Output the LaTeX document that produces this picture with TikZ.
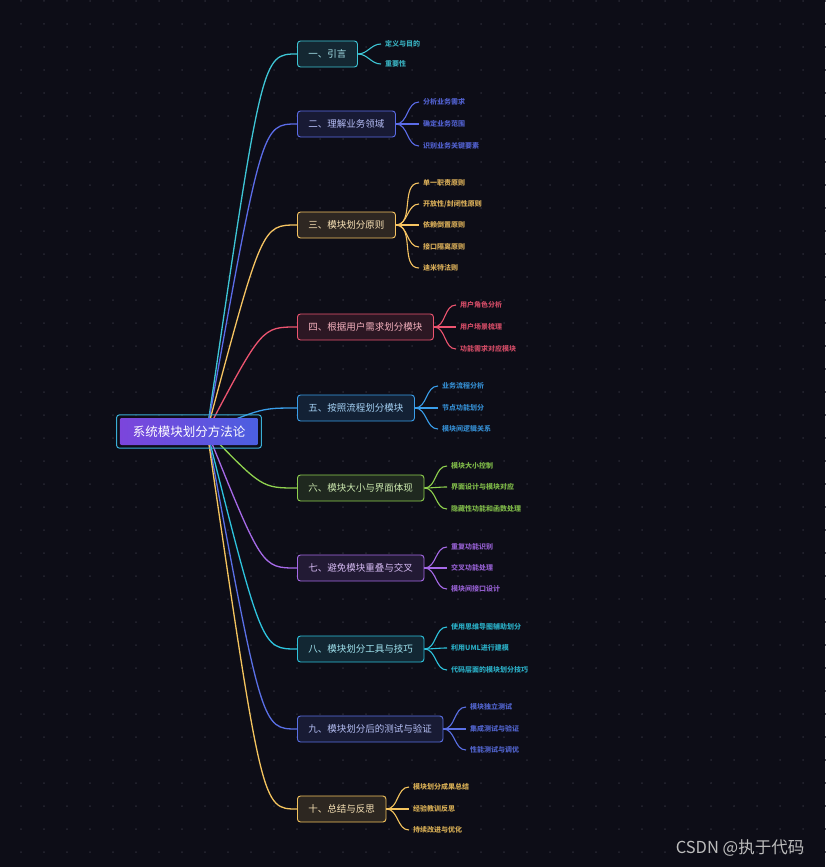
\documentclass[tikz,border=0pt]{standalone}
\usepackage{fontspec}
\setmainfont{Noto Sans CJK SC}
\usetikzlibrary{backgrounds}

\definecolor{bgc}{HTML}{0D0D17}
\definecolor{dotc}{HTML}{272733}
\definecolor{rootl}{HTML}{7C45DC}
\definecolor{rootr}{HTML}{4B5FE0}
\definecolor{rootf}{HTML}{3AAED6}
\definecolor{c1}{HTML}{3EC6D6}
\definecolor{c2}{HTML}{5B6CE8}
\definecolor{c3}{HTML}{F6C462}
\definecolor{c4}{HTML}{EC5470}
\definecolor{c5}{HTML}{3A9EEA}
\definecolor{c6}{HTML}{8FD14F}
\definecolor{c7}{HTML}{A66AE8}
\definecolor{c8}{HTML}{2EC4DE}
\definecolor{c9}{HTML}{5A70E6}
\definecolor{c10}{HTML}{F4C45E}
\definecolor{wmarkc}{HTML}{BDBDBD}

\tikzset{
  root/.style={left color=rootl, right color=rootr, text=white, rounded corners=2pt,
    minimum height=27pt, inner xsep=13pt, font=\fontsize{12.5pt}{14pt}\selectfont},
  rootframe/.style={draw=rootf, line width=1pt, rounded corners=3pt},
  branch/.style={draw=#1, fill=#1!14!bgc, text=#1!45!white, rounded corners=3pt,
    line width=0.9pt, minimum height=26pt, inner xsep=11pt, anchor=west,
    font=\fontsize{9.5pt}{11pt}\selectfont},
  leaf/.style={text=#1!85!bgc, inner xsep=4pt, inner ysep=1pt, anchor=west,
    font=\fontsize{7pt}{8pt}\selectfont\bfseries},
  link/.style={draw=#1, line width=1.3pt},
  twig/.style={draw=#1, line width=1.1pt},
  wmark/.style={text=wmarkc, font=\fontsize{16.5pt}{18pt}\selectfont}
}

\begin{document}
\begin{tikzpicture}[x=1pt, y=-1pt]
\useasboundingbox (0,0) rectangle (825,867);

% centre
\node[root] (root) at (189,431.5) {系统模块划分方法论};
\draw[rootframe] ([shift={(-3pt,3pt)}]root.north west) rectangle ([shift={(3pt,-3pt)}]root.south east);
\coordinate (hub) at (207,431);

% branches
\node[branch=c1] (b1) at (297,54) {一、引言};
\node[branch=c2] (b2) at (297,124) {二、理解业务领域};
\node[branch=c3] (b3) at (297,225) {三、模块划分原则};
\node[branch=c4] (b4) at (297,327) {四、根据用户需求划分模块};
\node[branch=c5] (b5) at (297,408) {五、按照流程划分模块};
\node[branch=c6] (b6) at (297,488) {六、模块大小与界面体现};
\node[branch=c7] (b7) at (297,568) {七、避免模块重叠与交叉};
\node[branch=c8] (b8) at (297,649) {八、模块划分工具与技巧};
\node[branch=c9] (b9) at (297,729) {九、模块划分后的测试与验证};
\node[branch=c10] (b10) at (297,809) {十、总结与反思};

% leaves
\node[leaf=c1] (l1a) at (381,44) {定义与目的};
\node[leaf=c1] (l1b) at (381,64) {重要性};

\node[leaf=c2] (l2a) at (419,102) {分析业务需求};
\node[leaf=c2] (l2b) at (419,124) {确定业务范围};
\node[leaf=c2] (l2c) at (419,146) {识别业务关键要素};

\node[leaf=c3] (l3a) at (419,183) {单一职责原则};
\node[leaf=c3] (l3b) at (419,204) {开放性/封闭性原则};
\node[leaf=c3] (l3c) at (419,225) {依赖倒置原则};
\node[leaf=c3] (l3d) at (419,247) {接口隔离原则};
\node[leaf=c3] (l3e) at (419,268) {迪米特法则};

\node[leaf=c4] (l4a) at (456,305) {用户角色分析};
\node[leaf=c4] (l4b) at (456,327) {用户场景梳理};
\node[leaf=c4] (l4c) at (456,349) {功能需求对应模块};

\node[leaf=c5] (l5a) at (438,386) {业务流程分析};
\node[leaf=c5] (l5b) at (438,408) {节点功能划分};
\node[leaf=c5] (l5c) at (438,429) {模块间逻辑关系};

\node[leaf=c6] (l6a) at (447,466) {模块大小控制};
\node[leaf=c6] (l6b) at (447,487) {界面设计与模块对应};
\node[leaf=c6] (l6c) at (447,509) {隐藏性功能和函数处理};

\node[leaf=c7] (l7a) at (447,547) {重复功能识别};
\node[leaf=c7] (l7b) at (447,568) {交叉功能处理};
\node[leaf=c7] (l7c) at (447,589) {模块间接口设计};

\node[leaf=c8] (l8a) at (447,627) {使用思维导图辅助划分};
\node[leaf=c8] (l8b) at (447,648) {利用UML进行建模};
\node[leaf=c8] (l8c) at (447,670) {代码层面的模块划分技巧};

\node[leaf=c9] (l9a) at (466,707) {模块独立测试};
\node[leaf=c9] (l9b) at (466,729) {集成测试与验证};
\node[leaf=c9] (l9c) at (466,750) {性能测试与调优};

\node[leaf=c10] (l10a) at (409,787) {模块划分成果总结};
\node[leaf=c10] (l10b) at (409,809) {经验教训反思};
\node[leaf=c10] (l10c) at (409,830) {持续改进与优化};

\node[wmark] (credit) at (740,848) {CSDN @执于代码};

\begin{scope}[on background layer]
\fill[bgc] (0,0) rectangle (825,867);
\foreach \i in {0,...,35}
  \foreach \j in {0,...,37}
    \fill[dotc] (21+23*\i, 1+23*\j) circle (1pt);

% centre to branches
\foreach \b in {1,...,10}
  \draw[link=c\b] (hub) .. controls ([xshift=-35pt]b\b.west) .. (b\b.west);

% branches to leaves
\draw[twig=c1] (b1.east) to[out=0,in=180] (l1a.west);
\draw[twig=c1] (b1.east) to[out=0,in=180] (l1b.west);
\foreach \l in {a,b,c}
  \draw[twig=c2] (b2.east) to[out=0,in=180] (l2\l.west);
\foreach \l in {a,b,c,d,e}
  \draw[twig=c3] (b3.east) to[out=0,in=180] (l3\l.west);
\foreach \b in {4,...,10}
  \foreach \l in {a,b,c}
    \draw[twig=c\b] (b\b.east) to[out=0,in=180] (l\b\l.west);
\end{scope}
\end{tikzpicture}
\end{document}
